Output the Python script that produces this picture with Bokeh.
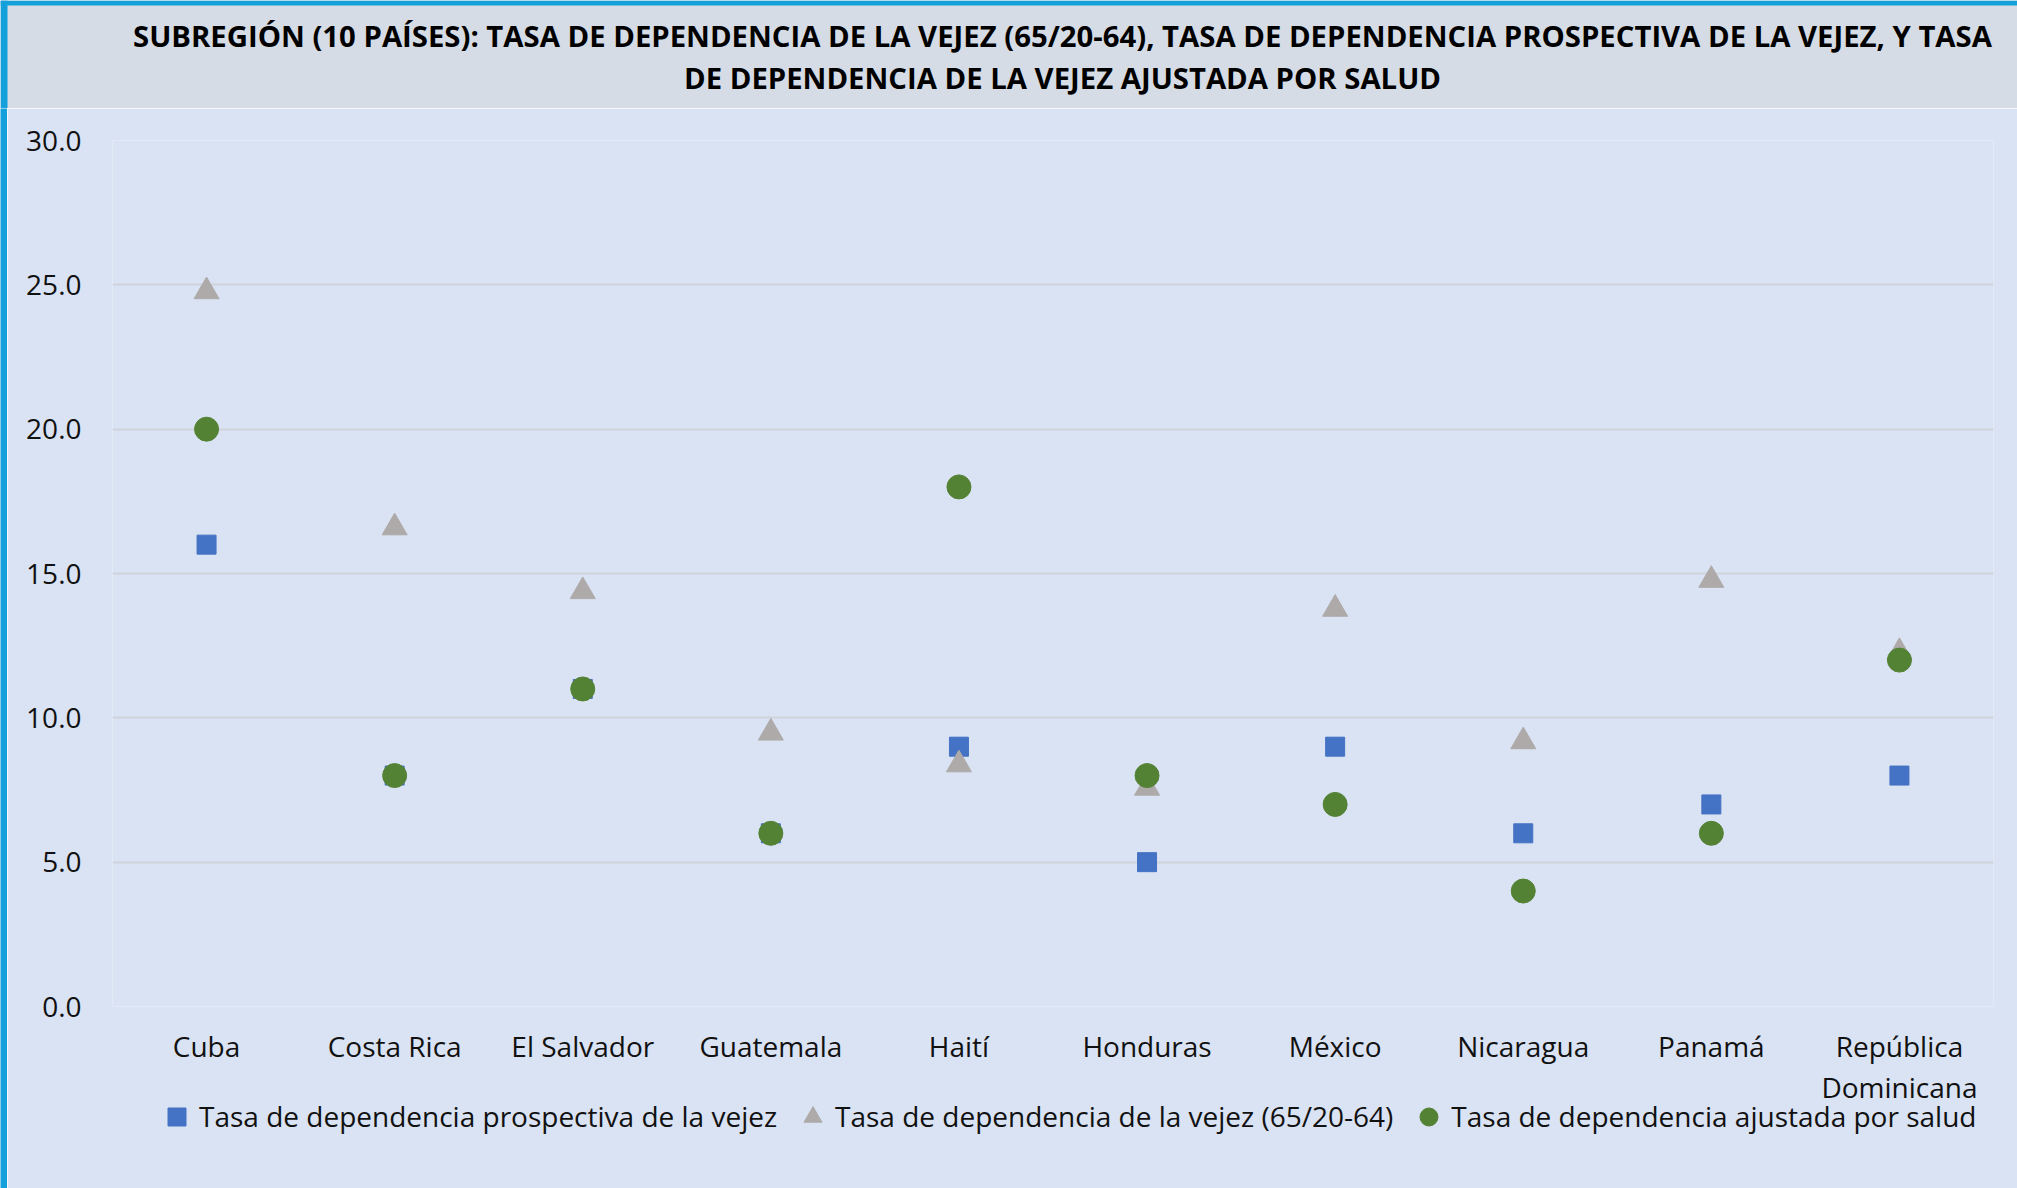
from bokeh.plotting import figure
from bokeh.layouts import column, row
from bokeh.models import (Range1d, FactorRange, Legend, LegendItem, Label, PrintfTickFormatter)
from bokeh.embed import file_html
from bokeh.resources import INLINE

# ---- data ----
countries = ["Cuba", "Costa Rica", "El Salvador", "Guatemala", "Haití", "Honduras",
             "México", "Nicaragua", "Panamá", "República\nDominicana"]
prospectiva = [16, 8, 11, 6, 9, 5, 9, 6, 7, 8]
vejez = [24.77, 16.59, 14.38, 9.48, 8.38, 7.57, 13.77, 9.18, 14.77, 12.27]
salud = [20, 8, 11, 6, 18, 8, 7, 4, 6, 12]
y_ticks = [0, 5, 10, 15, 20, 25, 30]
series_names = ["Tasa de dependencia prospectiva de la vejez",
                "Tasa de dependencia de la vejez (65/20-64)",
                "Tasa de dependencia ajustada por salud"]
title_text = ("SUBREGIÓN (10 PAÍSES): TASA DE DEPENDENCIA DE LA VEJEZ (65/20-64), TASA DE DEPENDENCIA PROSPECTIVA DE LA VEJEZ, Y TASA\n"
              "DE DEPENDENCIA DE LA VEJEZ AJUSTADA POR SALUD")

colors = ["#4472C4", "#AEAAAA", "#548235"]
markers = ["square", "triangle", "circle"]
sizes = [19, 25, 24]
series = [prospectiva, vejez, salud]

W, H = 2017, 1188
HEAD_H = 108
STRIP_W = 7
LEG_TOP = 1094
FRAME_L, FRAME_R, FRAME_T, FRAME_B = 112, 1993, 140, 1006
BG = "#DAE3F3"
HEAD_BG = "#D6DCE5"
BLUE = "#13A0DB"
TXT = "#111111"


def bare(fig):
    fig.xgrid.visible = False
    fig.ygrid.visible = False
    fig.outline_line_color = None
    return fig


# ---- header band with title ----
head = bare(figure(width=W, height=HEAD_H, x_range=Range1d(0, W), y_range=Range1d(0, HEAD_H),
                   output_backend="svg", toolbar_location=None,
                   x_axis_location=None, y_axis_location=None,
                   min_border=0, background_fill_color=HEAD_BG, border_fill_color=HEAD_BG))
head.quad(left=[0, 0], right=[W, STRIP_W], bottom=[HEAD_H - 5, 0], top=[HEAD_H, HEAD_H],
          fill_color=BLUE, line_color=None)
head.add_layout(Label(x=1062, y=HEAD_H - 56.5, text=title_text, text_align="center",
                      text_baseline="middle", text_font="Open Sans",
                      text_font_style="bold", text_font_size="29.3px", text_color="#000000",
                      text_line_height=1.04))

# ---- left blue strip ----
strip = bare(figure(width=STRIP_W, height=H - HEAD_H, x_range=Range1d(0, 1), y_range=Range1d(0, 1),
                    output_backend="svg", toolbar_location=None, min_border=0,
                    x_axis_location=None, y_axis_location=None,
                    background_fill_color=BLUE, border_fill_color=BLUE))

# ---- main chart ----
MW, MH = W - STRIP_W, H - HEAD_H
p = figure(x_range=FactorRange(factors=countries), y_range=Range1d(0, 30),
           width=MW, height=MH, output_backend="svg", toolbar_location=None,
           min_border_left=FRAME_L - STRIP_W, min_border_right=W - FRAME_R,
           min_border_top=FRAME_T - HEAD_H, min_border_bottom=H - FRAME_B,
           background_fill_color=BG, border_fill_color=BG, outline_line_color=None)

p.xgrid.grid_line_color = None
p.yaxis.ticker = y_ticks
p.ygrid.grid_line_color = "#D0D3D9"
p.ygrid.grid_line_width = 2
p.yaxis.formatter = PrintfTickFormatter(format="%.1f")
for ax in (p.xaxis[0], p.yaxis[0]):
    ax.axis_line_color = None
    ax.major_tick_line_color = None
    ax.minor_tick_line_color = None
    ax.major_tick_out = 0
    ax.major_tick_in = 0
    ax.major_label_text_font = "Open Sans"
    ax.major_label_text_font_size = "28px"
    ax.major_label_text_color = TXT
    ax.major_label_text_line_height = 1.08
p.yaxis.major_label_standoff = 31
p.xaxis.major_label_standoff = 20

# series (drawing order: squares, triangles, circles)
for vals, m, c, s in zip(series, markers, colors, sizes):
    p.scatter(x=countries, y=vals, marker=m, size=s, fill_color=c, line_color=c)

# ---- transparent legend overlay, pulled up over the bottom of the chart ----
LH = H - LEG_TOP
lf = bare(figure(width=MW, height=LH, x_range=FactorRange(factors=countries), y_range=Range1d(0, 30),
                 output_backend="svg", toolbar_location=None, min_border=0,
                 x_axis_location=None, y_axis_location=None,
                 background_fill_alpha=0, border_fill_alpha=0))
lf.margin = (-LH, 0, 0, 0)
items = []
for name, vals, m, c in zip(series_names, series, markers, colors):
    r = lf.scatter(x=countries, y=vals, marker=m, fill_color=c, line_color=c, visible=False)
    items.append(LegendItem(label=name, renderers=[r]))
legend = Legend(items=items, orientation="horizontal",
                location=(154 - FRAME_L, LH - (1116 - LEG_TOP) - 22.5),
                glyph_width=45, glyph_height=45, label_standoff=0, spacing=13,
                padding=0, margin=0, background_fill_alpha=0, border_line_color=None,
                label_text_font="Open Sans", label_text_font_size="28px",
                label_text_color=TXT)
lf.add_layout(legend, "center")

layout = column(head, row(strip, column(p, lf, spacing=0), spacing=0), spacing=0)
open("out.html", "w").write(file_html(layout, INLINE))
